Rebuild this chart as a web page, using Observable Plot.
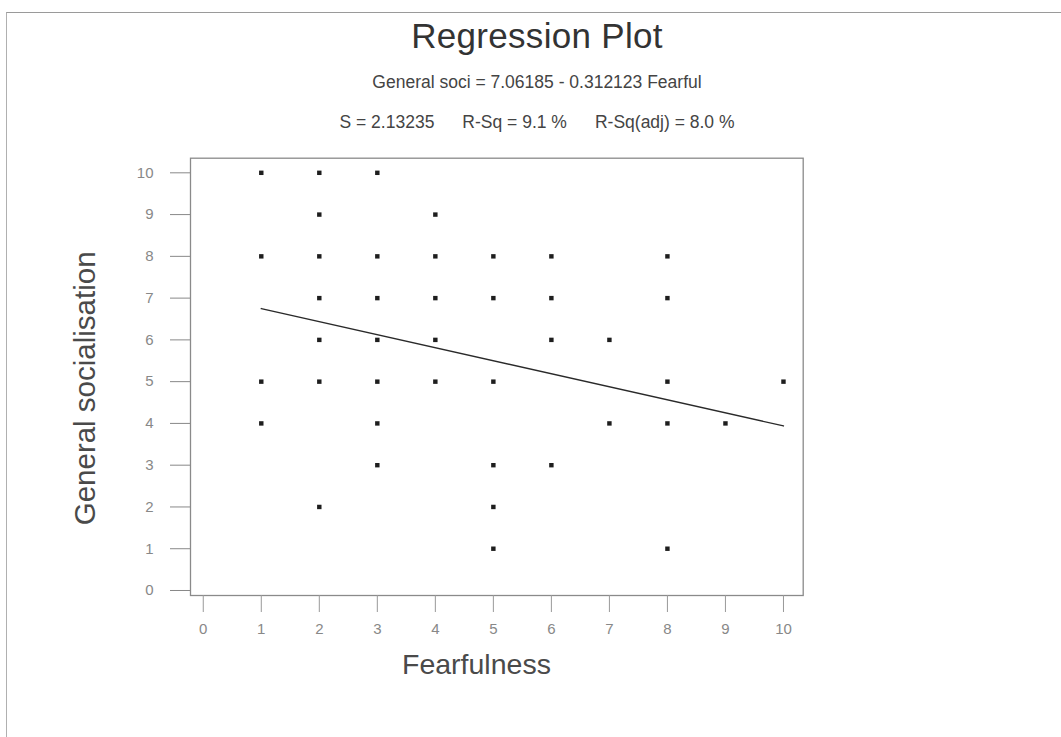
<!DOCTYPE html>
<html>
<head>
<meta charset="utf-8">
<script src="https://cdn.jsdelivr.net/npm/d3@7"></script>
<script src="https://cdn.jsdelivr.net/npm/@observablehq/plot@0.6"></script>
<style>
  html, body { margin: 0; padding: 0; background: #fff; overflow: hidden; }
  #page { position: relative; width: 1061px; height: 737px; font-family: "Liberation Sans", Arial, sans-serif; }
  #border { position: absolute; left: 6px; top: 12px; width: 1100px; height: 800px;
            border-top: 1.5px solid #9a9a9a; border-left: 1.5px solid #b0b0b0; }
  #header { position: relative; height: 140px; }
  .t { position: absolute; left: 537px; transform: translateX(-50%); white-space: nowrap; line-height: 1; color: #333; }
  #title { top: 18px; font-size: 35px; letter-spacing: 0.3px; }
  #sub1 { top: 74px; font-size: 17.5px; color: #444; }
  #sub2 { top: 114px; font-size: 17.5px; color: #444; }
  #sub2 span + span { margin-left: 28px; }
  svg { display: block; }
</style>
</head>
<body>
<div id="page">
  <div id="border"></div>
  <div id="header">
    <div class="t" id="title">Regression Plot</div>
    <div class="t" id="sub1">General soci = 7.06185 - 0.312123 Fearful</div>
    <div class="t" id="sub2"><span>S = 2.13235</span><span>R-Sq = 9.1 %</span><span>R-Sq(adj) = 8.0 %</span></div>
  </div>
  <div id="chart"></div>
</div>
<script>
// Observed points (Fearfulness, General socialisation)
const fearfulness = [1,1,1,1, 2,2,2,2,2,2,2, 3,3,3,3,3,3,3, 4,4,4,4,4, 5,5,5,5,5,5, 6,6,6,6, 7,7, 8,8,8,8,8, 9, 10];
const socialisation = [10,8,5,4, 10,9,8,7,6,5,2, 10,8,7,6,5,4,3, 9,8,7,6,5, 8,7,5,3,2,1, 8,7,6,3, 6,4, 8,7,5,4,1, 4, 5];

// Fitted line endpoints (General soci = 7.06185 - 0.312123 Fearful)
const fitX = [1, 10];
const fitY = [6.75, 3.94];

const xTicks = [0,1,2,3,4,5,6,7,8,9,10];
const yTicks = [0,1,2,3,4,5,6,7,8,9,10];

const xLabel = "Fearfulness";
const yLabel = "General socialisation";

const points = fearfulness.map((x, i) => ({x, y: socialisation[i]}));
const fit = fitX.map((x, i) => ({x, y: fitY[i]}));

const chart = Plot.plot({
  width: 1061,
  height: 597,
  marginTop: 17.7,
  marginBottom: 142,
  marginLeft: 190,
  marginRight: 258.3,
  style: { fontFamily: "Liberation Sans, Arial, sans-serif", background: "transparent" },
  x: { domain: [-0.22, 10.34] },
  y: { domain: [-0.12, 10.35] },
  marks: [
    Plot.frame({ stroke: "#8a8a8a", strokeWidth: 1.3 }),
    Plot.axisX(xTicks, { tickSize: 17, tickPadding: 11, fontSize: 15, stroke: "#999", fill: "#888", label: null }),
    Plot.axisY(yTicks, { tickSize: 20, tickPadding: 17, fontSize: 15, stroke: "#888", fill: "#888", label: null }),
    Plot.line(fit, { x: "x", y: "y", stroke: "#2a2a2a", strokeWidth: 1.4 }),
    Plot.dot(points, { x: "x", y: "y", symbol: "square", r: 2.5, fill: "#1e1e1e", stroke: "none" }),
    Plot.text([xLabel], { text: d => d, frameAnchor: "bottom", textAnchor: "middle", lineAnchor: "bottom",
                          dx: -20.4, dy: 78, fontSize: 28.5, fill: "#4a4a4a" }),
    Plot.text([yLabel], { text: d => d, frameAnchor: "left", textAnchor: "middle", lineAnchor: "bottom",
                          rotate: -90, dx: -96, dy: 11.5, fontSize: 29.5, fill: "#4a4a4a" })
  ]
});
document.getElementById("chart").appendChild(chart);
</script>
</body>
</html>
